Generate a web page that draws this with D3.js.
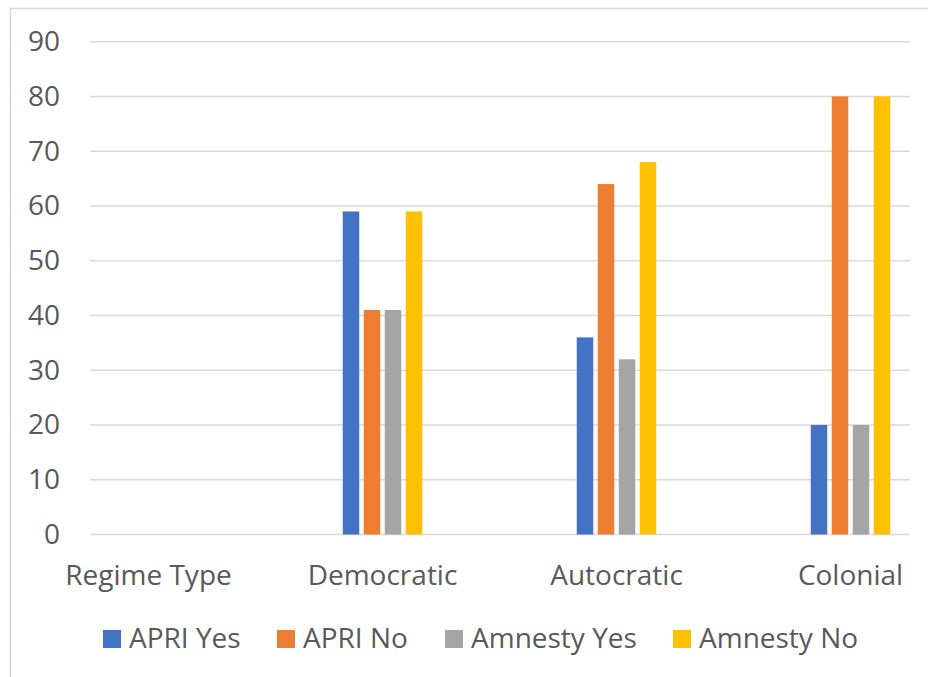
<!DOCTYPE html>
<html>
<head>
<meta charset="utf-8">
<script src="https://cdn.jsdelivr.net/npm/d3@7"></script>
<style>
  html, body { margin: 0; padding: 0; background: #fff; }
  svg { display: block; font-family: "Open Sans", "Noto Sans", sans-serif; }
</style>
</head>
<body>
<svg id="chart" width="928" height="677"></svg>
<script>
// Regime type categories (first one is an empty header row)
const categories = ["Regime Type", "Democratic", "Autocratic", "Colonial"];
const seriesNames = ["APRI Yes", "APRI No", "Amnesty Yes", "Amnesty No"];
const apriYes    = [null, 59, 36, 20];
const apriNo     = [null, 41, 64, 80];
const amnestyYes = [null, 41, 32, 20];
const amnestyNo  = [null, 59, 68, 80];
const yTicks = [0, 10, 20, 30, 40, 50, 60, 70, 80, 90];
const colors = ["#4472C4", "#ED7D31", "#A5A5A5", "#FFC000"];

const seriesValues = [apriYes, apriNo, amnestyYes, amnestyNo];
const rows = categories.map((c, i) => ({
  category: c,
  values: seriesNames.map((s, j) => ({ series: s, value: seriesValues[j][i] }))
}));

const svg = d3.select("#chart");
const textColor = "#595959";
const gridColor = "#d9d9d9";
const fontSize = "28px";

// Chart frame
svg.append("rect")
  .attr("x", 10.5).attr("y", 8.5)
  .attr("width", 940).attr("height", 700)
  .attr("fill", "#fff")
  .attr("stroke", gridColor).attr("stroke-width", 1.5);

const plotLeft = 90, plotRight = 910;

const y = d3.scaleLinear().domain([0, 90]).range([534.5, 41.7]);
const x0 = d3.scaleBand().domain(categories).range([31.5, 967.5]).padding(0);
const x1 = d3.scaleBand().domain(seriesNames).range([-39.75, 39.75]).paddingInner(0.214);

// Horizontal gridlines
svg.append("g").selectAll("line")
  .data(yTicks)
  .join("line")
  .attr("x1", plotLeft).attr("x2", plotRight)
  .attr("y1", d => y(d)).attr("y2", d => y(d))
  .attr("stroke", gridColor).attr("stroke-width", 1.5);

// Y-axis labels
const yAxis = d3.axisLeft(y).tickValues(yTicks).tickSize(0).tickPadding(0);
const yg = svg.append("g").attr("transform", "translate(60,0)").call(yAxis);
yg.select(".domain").remove();
yg.selectAll("text")
  .attr("fill", textColor)
  .style("font-size", fontSize)
  .style("font-family", "'Open Sans', 'Noto Sans', sans-serif");

// Bars
const groups = svg.append("g").selectAll("g")
  .data(rows)
  .join("g")
  .attr("transform", d => `translate(${x0(d.category) + x0.bandwidth() / 2},0)`);

groups.selectAll("rect")
  .data(d => d.values.filter(v => v.value != null))
  .join("rect")
  .attr("x", d => x1(d.series))
  .attr("width", x1.bandwidth())
  .attr("y", d => y(d.value))
  .attr("height", d => y(0) - y(d.value))
  .attr("fill", (d) => colors[seriesNames.indexOf(d.series)]);

// Category labels
const xAxis = d3.axisBottom(x0).tickSize(0).tickPadding(0);
const xg = svg.append("g").attr("transform", "translate(0,585)").call(xAxis);
xg.select(".domain").remove();
xg.selectAll("text")
  .attr("dy", 0)
  .attr("fill", textColor)
  .style("font-size", fontSize)
  .style("font-family", "'Open Sans', 'Noto Sans', sans-serif");

// Legend
const legendX = [103, 277, 445, 673];
const legend = svg.append("g").selectAll("g")
  .data(seriesNames)
  .join("g")
  .attr("transform", (d, i) => `translate(${legendX[i]},630)`);
legend.append("rect")
  .attr("width", 18).attr("height", 18)
  .attr("fill", (d, i) => colors[i]);
legend.append("text")
  .attr("x", 26).attr("y", 18)
  .attr("fill", textColor)
  .style("font-size", fontSize)
  .text(d => d);
</script>
</body>
</html>
